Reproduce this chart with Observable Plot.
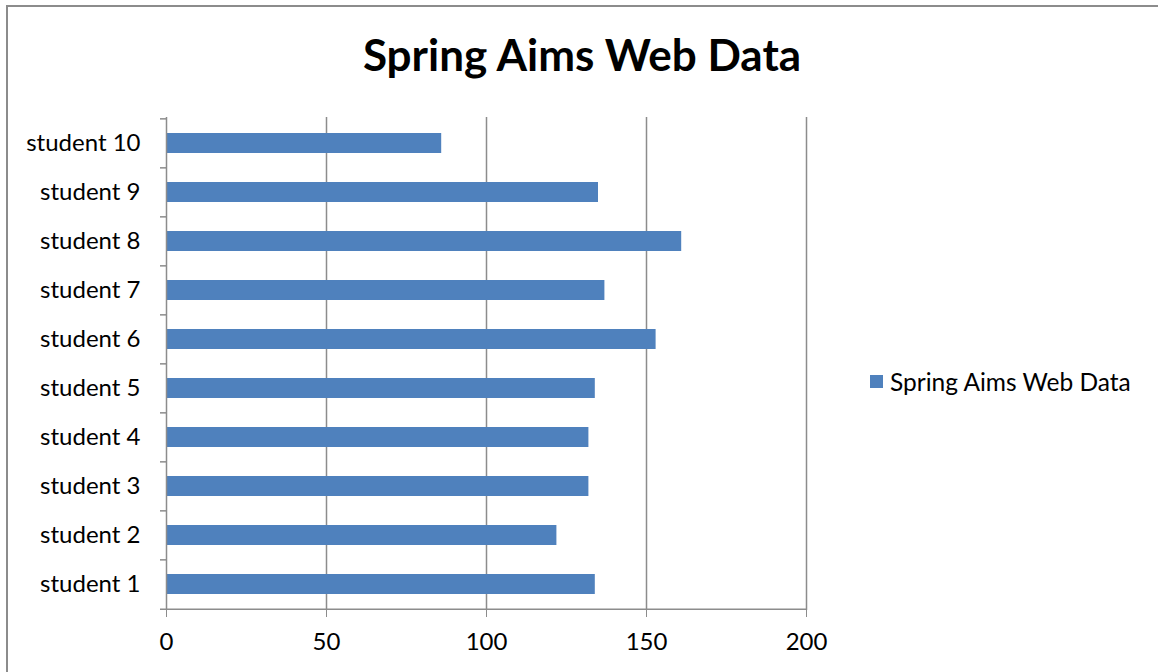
<!DOCTYPE html>
<html>
<head>
<meta charset="utf-8">
<script src="https://cdn.jsdelivr.net/npm/d3@7"></script>
<script src="https://cdn.jsdelivr.net/npm/@observablehq/plot@0.6"></script>
<style>
  html, body { margin: 0; padding: 0; background: #fff; }
  #wrap { position: relative; width: 1158px; height: 672px; overflow: hidden; background: #fff; font-family: Lato, "Open Sans", sans-serif; }
  #frame { position: absolute; left: 6px; top: 5px; width: 1150px; height: 700px; border-left: 2px solid #8c8c8c; border-top: 2px solid #8c8c8c; border-right: 1px solid #d9d9d9; }
  #title { position: absolute; left: 0; top: 28px; width: 1164px; text-align: center; font-size: 44px; font-weight: 700; color: #000; }
  #legend { position: absolute; left: 870px; top: 367px; font-size: 24.5px; color: #000; display: flex; align-items: center; }
  #legend .sw { width: 13px; height: 13px; background: #4F81BD; margin-right: 7px; }
  #chart { position: absolute; left: 0; top: 100px; }
</style>
</head>
<body>
<div id="wrap">
  <div id="frame"></div>
  <div id="title">Spring Aims Web Data</div>
  <div id="chart"></div>
  <div id="legend"><span class="sw"></span><span>Spring Aims Web Data</span></div>
</div>
<script>
const students = ["student 1","student 2","student 3","student 4","student 5","student 6","student 7","student 8","student 9","student 10"];
const scores = [134, 122, 132, 132, 134, 153, 137, 161, 135, 86];
const xTicks = [0, 50, 100, 150, 200];

const data = students.map((s, i) => ({student: s, value: scores[i]}));
const order = students.slice().reverse();

const H = 572, MT = 17, MB = 62;
const step = (H - MT - MB) / students.length;

const plot = Plot.plot({
  width: 830,
  height: H,
  marginLeft: 166,
  marginRight: 24,
  marginTop: MT,
  marginBottom: MB,
  style: {fontFamily: "Lato, 'Open Sans', sans-serif", fontSize: "24px", color: "#000", background: "transparent"},
  x: {domain: [0, 200], ticks: xTicks, label: null},
  y: {domain: order, label: null, paddingInner: 0.6, paddingOuter: 0.3},
  marks: [
    Plot.ruleX(xTicks.slice(1), {stroke: "#8c8c8c", strokeWidth: 1.5}),
    Plot.barX(data, {y: "student", x: "value", fill: "#4F81BD"}),
    Plot.ruleX([0], {stroke: "#8c8c8c", strokeWidth: 1.5}),
    Plot.ruleY(students, {y: d => d, x1: 0, x2: 0, insetLeft: -6, dy: -step / 2, stroke: "#8c8c8c", strokeWidth: 1.5}),
    Plot.ruleY(students.slice(0, 1), {y: d => d, x1: 0, x2: 200, insetLeft: -6, dy: step / 2, stroke: "#8c8c8c", strokeWidth: 1.5}),
    Plot.axisX({ticks: xTicks, tickSize: 7, tickPadding: 15, stroke: "#8c8c8c", fill: "#000", tickFormat: d => String(d)}),
    Plot.axisY({tickSize: 0, tickPadding: 26, fill: "#000"})
  ]
});
document.getElementById("chart").appendChild(plot);
</script>
</body>
</html>
